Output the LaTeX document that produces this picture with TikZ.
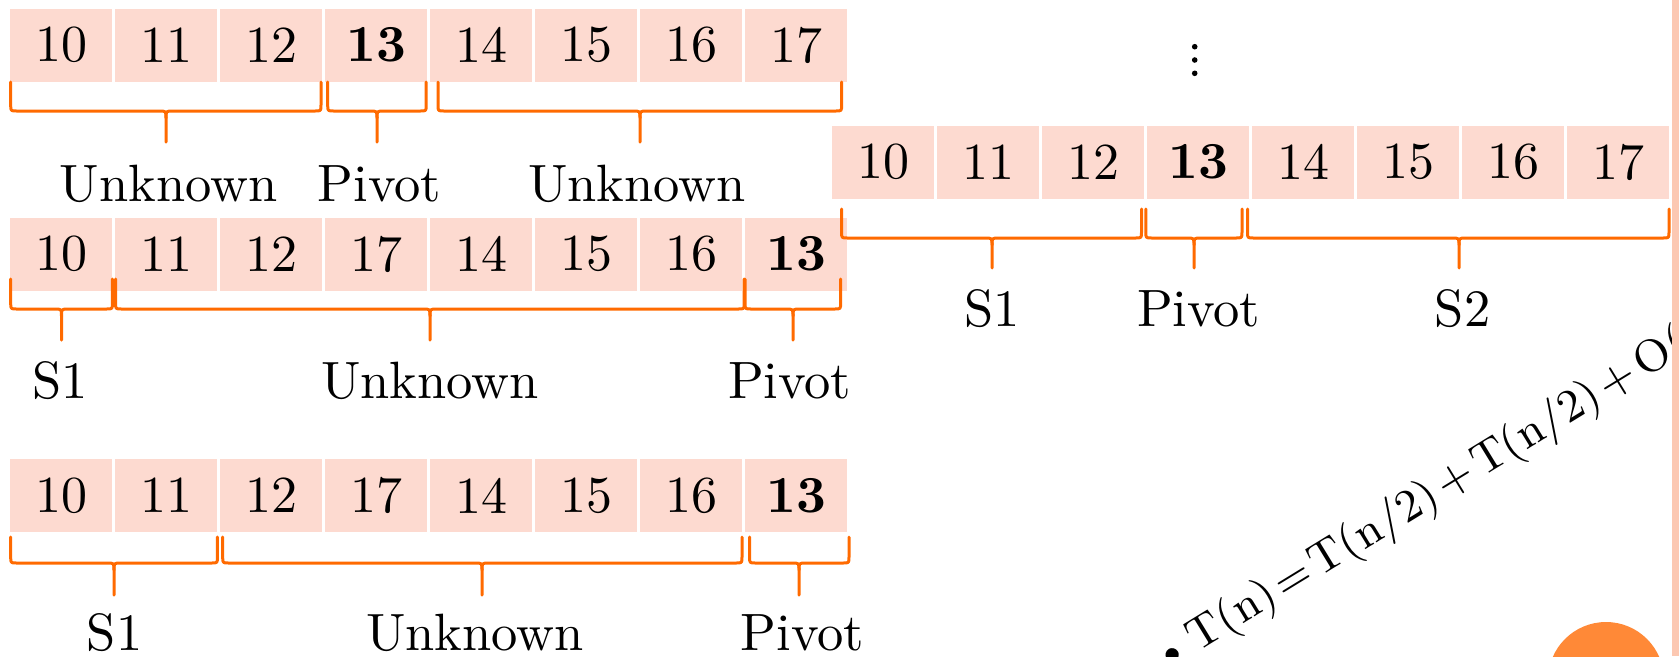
\documentclass[tikz,border=0pt]{standalone}
\usepackage{tikz}
\definecolor{cellpink}{RGB}{253,218,208}
\definecolor{braceorange}{RGB}{255,106,0}
\definecolor{barpink}{RGB}{252,200,178}
\definecolor{dotorange}{RGB}{255,137,55}
\tikzset{
  cell/.style={fill=cellpink, minimum width=20.4pt, minimum height=14.6pt, inner sep=0pt,
    font=\fontsize{10.4}{12}\selectfont, text=black},
  lbl/.style={anchor=base, font=\fontsize{10.5}{12}\selectfont, inner sep=0pt},
  bracepath/.style={draw=braceorange, line width=0.6pt, line join=round, line cap=round},
}
% x1, x2, xmid, ytop, yhorizontal, ytip
\newcommand\mybrace[6]{%
  \draw[bracepath] (#1,#4) -- (#1,#5-6) .. controls (#1,#5) .. (#1+6,#5) -- (#3-7,#5)
     .. controls (#3,#5) .. (#3,#5+7) -- (#3,#6);
  \draw[bracepath] (#2,#4) -- (#2,#5-6) .. controls (#2,#5) .. (#2-6,#5) -- (#3+7,#5)
     .. controls (#3,#5) .. (#3,#5+7);
}
\newcommand\tsp{\hspace{0.12em}}
\begin{document}
\begin{tikzpicture}[x=0.2pt,y=-0.2pt]
\useasboundingbox (0,0) rectangle (1679,656);
\fill[white] (0,0) rectangle (1679,656);

% row 1
\foreach \v [count=\i] in {10,11,12,\textbf{13},14,15,16,17}
  \node[cell] (ra\i) at ({61+(\i-1)*105},45) {\v};
\mybrace{10.7}{321}{166}{82}{111}{142}
\mybrace{327.7}{426.2}{377}{82}{111}{142}
\mybrace{438}{841.6}{640}{82}{111}{142}
\node[lbl] (la1) at (168.6,201) {Unknown};
\node[lbl] (la2) at (379.6,201) {Pivot};
\node[lbl] (la3) at (637,201) {Unknown};

% row 2
\foreach \v [count=\i] in {10,11,12,17,14,15,16,\textbf{13}}
  \node[cell] (rb\i) at ({61+(\i-1)*105},254) {\v};
\mybrace{10.7}{112.4}{61.5}{279}{309}{340}
\mybrace{115.6}{744.2}{430}{279}{309}{340}
\mybrace{745}{840.6}{793}{279}{309}{340}
\node[lbl] (lb1) at (60.5,398) {S1};
\node[lbl] (lb2) at (430,398) {Unknown};
\node[lbl] (lb3) at (789.7,398) {Pivot};

% row 3
\foreach \v [count=\i] in {10,11,12,17,14,15,16,\textbf{13}}
  \node[cell] (rc\i) at ({61+(\i-1)*105},495.5) {\v};
\mybrace{10.7}{217.4}{114}{537}{563}{595}
\mybrace{222.7}{742}{482}{537}{563}{595}
\mybrace{749.6}{849}{799}{537}{563}{595}
\node[lbl] (lc1) at (114.6,650) {S1};
\node[lbl] (lc2) at (475,650) {Unknown};
\node[lbl] (lc3) at (802.6,650) {Pivot};

% right row
\foreach \v [count=\i] in {10,11,12,\textbf{13},14,15,16,17}
  \node[cell] (rd\i) at ({883+(\i-1)*105},162) {\v};
\mybrace{841.6}{1141.5}{992}{209}{238}{268}
\mybrace{1145.8}{1242}{1194}{209}{238}{268}
\mybrace{1247.5}{1669}{1459}{209}{238}{268}
\node[lbl] (ld1) at (992,326.6) {S1};
\node[lbl] (ld2) at (1198.7,326.6) {Pivot};
\node[lbl] (ld3) at (1462.7,326.6) {S2};

% vertical dots
\foreach \yy in {46.7,60,73.3}
  \fill (1194.7,\yy) circle (2.8);

% formula, bar and circle clipped to the page
\begin{scope}
\clip (0,0) rectangle (1679,656);
\node[rotate=31.5, anchor=base west, inner sep=0pt, font=\fontsize{9.1}{12}\selectfont] (eq)
  at (1162,674) {\textbullet\kern0.1em T(n)\tsp=\tsp T(n/2)\tsp+\tsp T(n/2)\tsp+\tsp O(n)};
\fill[barpink] (1672,0) rectangle (1679,656);
\fill[dotorange] (1606,680) circle (58);
\end{scope}
\end{tikzpicture}
\end{document}
